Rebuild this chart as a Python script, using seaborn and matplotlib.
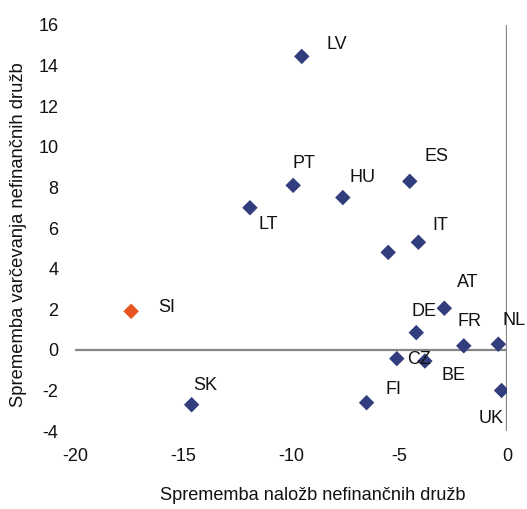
import matplotlib
matplotlib.use("Agg")
import matplotlib.pyplot as plt
import seaborn as sns
import pandas as pd

# Country codes and their changes (pp)
countries = ["LV", "PT", "HU", "ES", "IT", "", "LT", "SI", "SK",
             "AT", "DE", "FR", "NL", "CZ", "BE", "FI", "UK"]
invest_change = [-9.5, -9.9, -7.6, -4.5, -4.1, -5.5, -11.9, -17.4, -14.6,
                 -2.9, -4.2, -2.0, -0.4, -5.1, -3.8, -6.5, -0.25]
saving_change = [14.45, 8.1, 7.5, 8.3, 5.3, 4.8, 7.0, 1.9, -2.7,
                 2.05, 0.85, 0.2, 0.28, -0.43, -0.55, -2.6, -2.0]
x_ticks = [-20, -15, -10, -5, 0]
y_ticks = [-4, -2, 0, 2, 4, 6, 8, 10, 12, 14, 16]

# Label offsets in pixels relative to each point
label_offsets = {
    "LV": (35, 12), "PT": (11, 22), "HU": (20, 20), "ES": (27, 25),
    "IT": (22, 17), "LT": (18, -17), "SI": (36, 4), "SK": (14, 19),
    "AT": (23, 26), "DE": (8, 21), "FR": (6, 24), "NL": (16, 24),
    "CZ": (22, -1), "BE": (29, -14), "FI": (27, 13), "UK": (-10, -28),
}

df = pd.DataFrame({"country": countries, "x": invest_change, "y": saving_change})
df["group"] = ["SI" if c == "SI" else "other" for c in countries]

sns.set_style("white")
plt.rcParams["font.family"] = ["Liberation Sans", "DejaVu Sans"]
plt.rcParams["axes.unicode_minus"] = False

fig = plt.figure(figsize=(5.27, 5.09), dpi=100)
ax = fig.add_axes([0.1423, 0.153, 0.8197, 0.798])

navy = "#313D7C"
orange = "#E8531F"
sns.scatterplot(data=df, x="x", y="y", hue="group", marker="D", s=62,
                palette={"other": navy, "SI": orange}, edgecolor="none",
                legend=False, ax=ax, zorder=3)

ax.axhline(0, color="#868686", lw=1.6, zorder=1)
ax.axvline(0, color="#868686", lw=1.6, zorder=1)

for c, x, y in zip(countries, invest_change, saving_change):
    if not c:
        continue
    dx, dy = label_offsets[c]
    ax.annotate(c, (x, y), xytext=(dx, dy), textcoords="offset pixels",
                ha="center", va="center", fontsize=13, color="#111111")

ax.set_xlim(-20, 0)
ax.set_ylim(-4, 16)
ax.set_xticks(x_ticks)
ax.set_yticks(y_ticks)
ax.tick_params(axis="both", length=0, labelsize=13, colors="#111111")
ax.tick_params(axis="x", pad=12)
ax.tick_params(axis="y", pad=12)
for s in ax.spines.values():
    s.set_visible(False)

ax.set_xlabel("Sprememba naložb nefinančnih družb", fontsize=13.1, labelpad=16,
              color="#111111", x=0.551)
ax.set_ylabel("Sprememba varčevanja nefinančnih družb", fontsize=13.2,
              labelpad=8, color="#111111", y=0.483)

fig.savefig("out.png", dpi=100)
